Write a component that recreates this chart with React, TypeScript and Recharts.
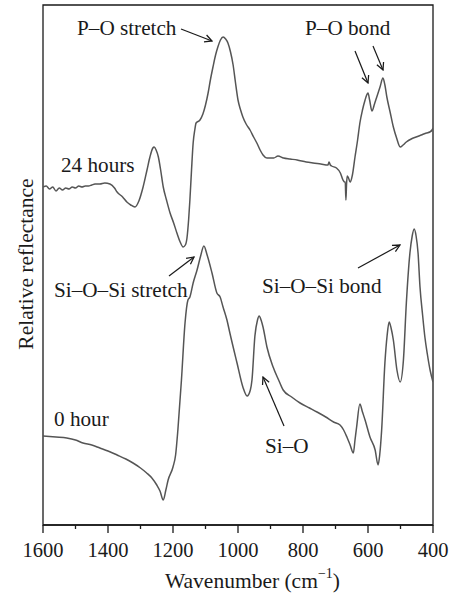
import React from 'react';
import { LineChart, Line, XAxis, YAxis, ReferenceArea } from 'recharts';

// wavenumber (cm-1) and relative reflectance (arbitrary units)
const wn24h = [
  1600, 1590, 1580, 1570, 1560, 1550, 1540, 1530, 1520, 1510, 1500, 1490, 1480, 1470, 1460, 1450, 1440,
  1425, 1410, 1394, 1380, 1372, 1355, 1342, 1330, 1317, 1305, 1292, 1280, 1271, 1262, 1258, 1252, 1245,
  1238, 1230, 1220, 1209, 1198, 1188, 1178, 1169, 1162, 1157, 1152, 1148, 1143, 1138, 1133, 1129, 1117,
  1108, 1100, 1092, 1085, 1077, 1069, 1062, 1054, 1046, 1038, 1031, 1023, 1015, 1008, 1000, 992, 985,
  975, 963, 952, 942, 932, 923, 911, 890, 877, 860, 840, 818, 790, 769, 745, 723, 720, 716, 712, 697,
  685, 677, 672, 670, 668, 666, 664, 660, 655, 648, 640, 632, 625, 617, 609, 604, 600, 595, 588, 580,
  573, 563, 554, 548, 542, 532, 522, 512, 501, 492, 482, 467, 452, 436, 420, 410, 403, 400,
];
const refl24h = [
  338, 339, 336, 338, 334, 337, 335, 337, 336, 338, 337, 339, 338, 339, 339, 340, 341,
  341, 342, 341, 337, 333, 328, 323, 320, 318, 324, 338, 355, 368, 377, 378, 375, 368,
  355, 338, 325, 312, 302, 292, 283, 278, 280, 287, 305, 325, 355, 382, 395, 402, 405,
  411, 420, 432, 445, 458, 470, 478, 485, 488, 486, 482, 473, 460, 443, 425, 415, 408,
  401, 395, 388, 382, 375, 370, 367, 367, 369, 367, 366, 365, 363, 362, 361, 360, 363, 360, 359, 357,
  352, 345, 343, 343, 325, 341, 349, 347, 343, 350, 368, 385, 402, 415, 425, 430, 432, 425, 414, 421,
  428, 438, 447, 440, 428, 413, 398, 387, 378, 380, 383, 386, 388, 390, 392, 393, 395, 397,
];

const wn0h = [
  1600, 1560, 1527, 1500, 1477, 1450, 1425, 1400, 1372, 1345, 1323, 1300, 1281, 1265, 1250, 1240, 1230,
  1222, 1215, 1200, 1192, 1185, 1174, 1163, 1154, 1148, 1138, 1126, 1115, 1105, 1095, 1080, 1065, 1055,
  1046, 1034, 1025, 1003, 985, 972, 962, 957, 948, 940, 935, 929, 923, 911, 892, 875, 861, 835, 809, 780,
  757, 730, 706, 686, 675, 665, 655, 645, 640, 635, 625, 617, 609, 594, 578, 569, 564, 558, 548, 541,
  535, 529, 522, 511, 501, 491, 482, 471, 464, 458, 452, 446, 440, 432, 425, 417, 409, 400,
];
const refl0h = [
  89, 88, 87, 85, 82, 80, 77, 74, 70, 66, 62, 57, 52, 47, 40, 34, 25,
  35, 45, 58, 70, 95, 145, 202, 225, 228, 242, 255, 269, 279, 270, 252, 232, 228,
  218, 205, 192, 162, 138, 129, 135, 145, 189, 205, 209, 205, 198, 178, 158, 145, 135, 128, 122, 117,
  113, 108, 103, 100, 95, 88, 80, 72, 85, 98, 121, 113, 105, 88, 75, 60, 70, 95, 162, 190,
  203, 197, 185, 155, 143, 165, 222, 272, 289, 296, 289, 272, 238, 210, 188, 170, 155, 143,
];

const xTicks = [1600, 1500, 1400, 1300, 1200, 1100, 1000, 900, 800, 700, 600, 500, 400];

const data24h = wn24h.map((wn, i) => ({ wn, r: refl24h[i] }));
const data0h = wn0h.map((wn, i) => ({ wn, r: refl0h[i] }));

const FONT = '"Liberation Serif", "DejaVu Serif", Times, serif';
const INK = '#1a1a1a';
const CURVE = '#555555';

const WaveTick = (props: any) => {
  const { x, y, payload } = props;
  const major = payload.value % 200 === 0;
  return (
    <g>
      <line x1={x} x2={x} y1={y} y2={y + (major ? 8 : 4)} stroke={INK} strokeWidth={1.3} />
      {major && (
        <text x={x} y={y + 32} textAnchor="middle" fontFamily={FONT} fontSize={20.5} fill={INK}>
          {payload.value}
        </text>
      )}
    </g>
  );
};

const Annotations = () => (
  <svg
    width={453}
    height={596}
    style={{ position: 'absolute', left: 0, top: 0, pointerEvents: 'none' }}
    fontFamily={FONT}
    fill={INK}
  >
    <defs>
      <marker id="head" viewBox="0 0 10 10" refX="9" refY="5" markerWidth="9" markerHeight="9"
        markerUnits="userSpaceOnUse" orient="auto">
        <path d="M1,1 L9,5 L1,9" fill="none" stroke={INK} strokeWidth={1.4} />
      </marker>
    </defs>
    <g fontSize={21.2}>
      <text x={77} y={35}>P–O stretch</text>
      <text x={305} y={35}>P–O bond</text>
      <text x={61} y={172}>24 hours</text>
      <text x={54} y={297}>Si–O–Si stretch</text>
      <text x={262} y={293}>Si–O–Si bond</text>
      <text x={54} y={426}>0 hour</text>
      <text x={265} y={453}>Si–O</text>
    </g>
    <g stroke={INK} strokeWidth={1.2} markerEnd="url(#head)">
      <line x1={181} y1={29} x2={212} y2={41} />
      <line x1={355} y1={51} x2={368} y2={83} />
      <line x1={373} y1={46} x2={383} y2={70} />
      <line x1={169} y1={276} x2={194} y2={257} />
      <line x1={358} y1={268} x2={400} y2={245} />
      <line x1={284} y1={426} x2={263} y2={377} />
    </g>
    <text x={165} y={588} fontSize={21.5}>
      Wavenumber (cm
      <tspan fontSize={14} dy={-10}>−1</tspan>
      <tspan dy={10}>)</tspan>
    </text>
    <text x={26} y={264} fontSize={21.5} textAnchor="middle" dominantBaseline="central"
      transform="rotate(-90, 26, 264)">
      Relative reflectance
    </text>
  </svg>
);

export default function App() {
  return (
    <div style={{ position: 'absolute', left: 0, top: 0, width: 453, height: 596, background: '#fff' }}>
      <LineChart width={453} height={596} margin={{ top: 5, right: 20, left: 43, bottom: 31 }}>
        <XAxis
          dataKey="wn"
          type="number"
          domain={[400, 1600]}
          reversed
          ticks={xTicks}
          interval={0}
          height={40}
          tickSize={0}
          tickMargin={0}
          tickLine={false}
          axisLine={{ stroke: INK, strokeWidth: 1.3 }}
          tick={<WaveTick />}
          allowDataOverflow
        />
        <YAxis type="number" domain={[0, 520]} hide allowDataOverflow />
        <ReferenceArea x1={1600} x2={400} y1={0} y2={520} fill="none" stroke={INK} strokeWidth={1.3} />
        <Line data={data24h} dataKey="r" type="monotone" stroke={CURVE} strokeWidth={1.5} dot={false}
          isAnimationActive={false} />
        <Line data={data0h} dataKey="r" type="monotone" stroke={CURVE} strokeWidth={1.5} dot={false}
          isAnimationActive={false} />
      </LineChart>
      <Annotations />
    </div>
  );
}
